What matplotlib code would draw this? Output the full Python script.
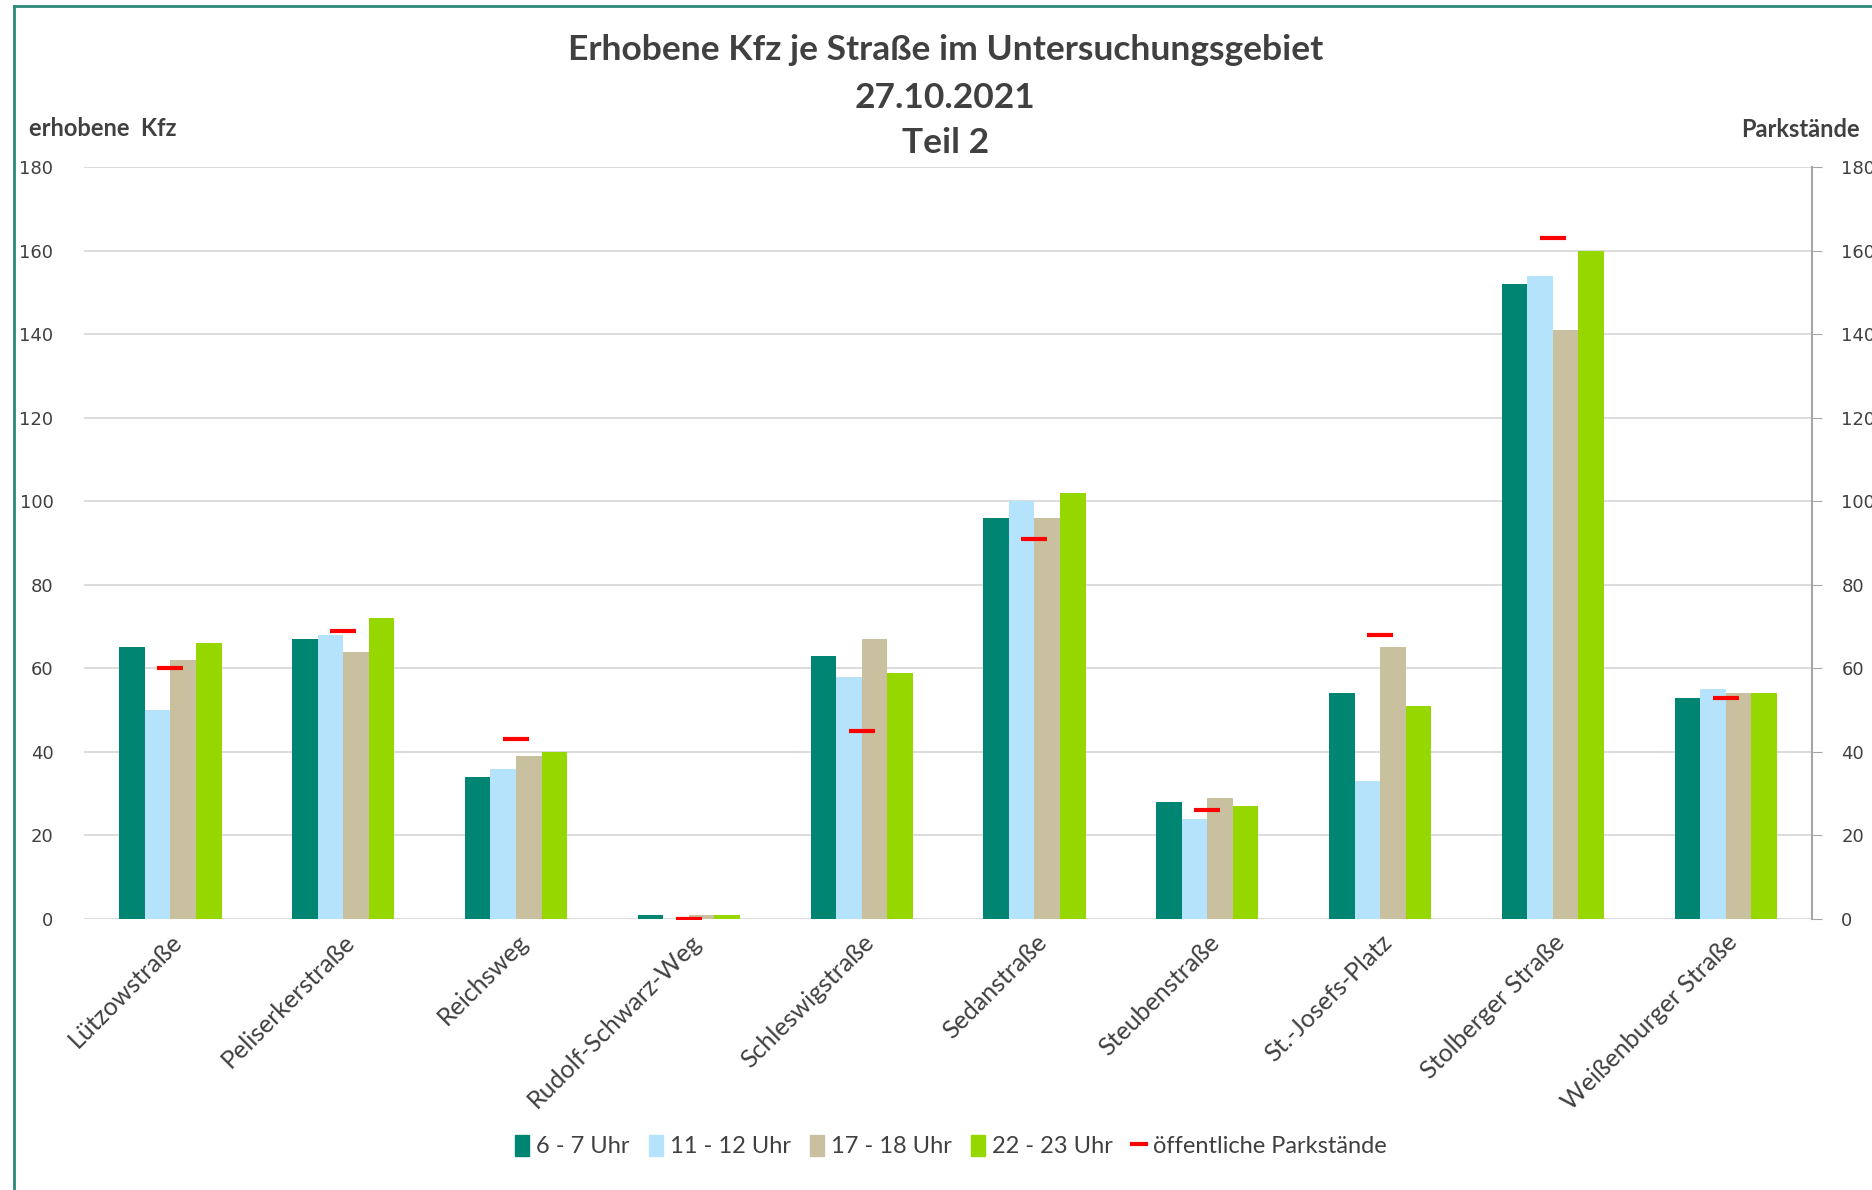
import numpy as np
import matplotlib
matplotlib.use("Agg")
import matplotlib.pyplot as plt
from matplotlib.patches import Patch
from matplotlib.lines import Line2D

streets = ["Lützowstraße", "Peliserkerstraße", "Reichsweg", "Rudolf-Schwarz-Weg",
           "Schleswigstraße", "Sedanstraße", "Steubenstraße", "St.-Josefs-Platz",
           "Stolberger Straße", "Weißenburger Straße"]
uhr_6_7 = [65, 67, 34, 1, 63, 96, 28, 54, 152, 53]
uhr_11_12 = [50, 68, 36, 0, 58, 100, 24, 33, 154, 55]
uhr_17_18 = [62, 64, 39, 1, 67, 96, 29, 65, 141, 54]
uhr_22_23 = [66, 72, 40, 1, 59, 102, 27, 51, 160, 54]
parkstaende = [60, 69, 43, 0, 45, 91, 26, 68, 163, 53]

series = [("6 - 7 Uhr", uhr_6_7, "#008573"),
          ("11 - 12 Uhr", uhr_11_12, "#b5e3fb"),
          ("17 - 18 Uhr", uhr_17_18, "#c9c0a0"),
          ("22 - 23 Uhr", uhr_22_23, "#97d700")]
txt = "#404040"
font = ["Lato", "DejaVu Sans"]

fig = plt.figure(figsize=(18.72, 11.9), dpi=100)
ax = fig.add_axes([0.0449, 0.2277, 0.9231, 0.632])
ax2 = ax.twinx()

x = np.arange(len(streets))
w = 0.148
for i, (lab, vals, col) in enumerate(series):
    ax.bar(x + (i - 1.5) * w, vals, w, color=col, label=lab, zorder=2)
ax2.plot(x, parkstaende, ls="none", marker="_", ms=19, mew=3, color="#ff0000", zorder=3)

for a in (ax, ax2):
    a.set_ylim(0, 180)
    a.set_yticks(range(0, 181, 20))
    a.set_xlim(-0.5, len(streets) - 0.5)
    for s in a.spines.values():
        s.set_visible(False)
ax.grid(axis="y", color="#d9d9d9", lw=1.3, zorder=0)
ax.set_axisbelow(True)
ax.tick_params(axis="y", length=0, labelsize=13, labelcolor=txt, pad=22)
ax.tick_params(axis="x", length=0, pad=8)
ax.set_xticks(x)
ax.set_xticklabels(streets, rotation=45, ha="right", rotation_mode="anchor",
                   fontsize=18, color=txt, family=font)
ax2.spines["right"].set_visible(True)
ax2.spines["right"].set_color("#a6a6a6")
ax2.spines["right"].set_linewidth(1.5)
ax2.tick_params(axis="y", length=7, color="#a6a6a6", labelsize=13, labelcolor=txt, pad=14)

for y, s in [(0.958, "Erhobene Kfz je Straße im Untersuchungsgebiet"), (0.918, "27.10.2021"), (0.880, "Teil 2")]:
    fig.text(0.505, y, s, ha="center", va="center",
             fontsize=25.5, fontweight="bold", color=txt, family=font)
fig.text(0.0155, 0.892, "erhobene  Kfz", ha="left", va="center",
         fontsize=17, fontweight="bold", color=txt, family=font)
fig.text(0.930, 0.891, "Parkstände", ha="left", va="center",
         fontsize=17, fontweight="bold", color=txt, family=font)

handles = [Patch(color=c, label=l) for l, _, c in series]
handles.append(Line2D([], [], color="#ff0000", lw=3, label="öffentliche Parkstände"))
fig.legend(handles=handles, loc="center", bbox_to_anchor=(0.508, 0.037), ncol=5, frameon=False,
           handlelength=0.6, handleheight=1.0, handletextpad=0.3, columnspacing=0.8,
           prop={"family": font, "size": 17}, labelcolor=txt)

# teal chart frame (cut off at right and bottom)
fig.add_artist(Line2D([0.0075, 0.0075], [0, 0.995], color="#2a8a7a", lw=2, transform=fig.transFigure))
fig.add_artist(Line2D([0.0075, 1.0], [0.995, 0.995], color="#2a8a7a", lw=2, transform=fig.transFigure))

fig.savefig("out.png", dpi=100)
